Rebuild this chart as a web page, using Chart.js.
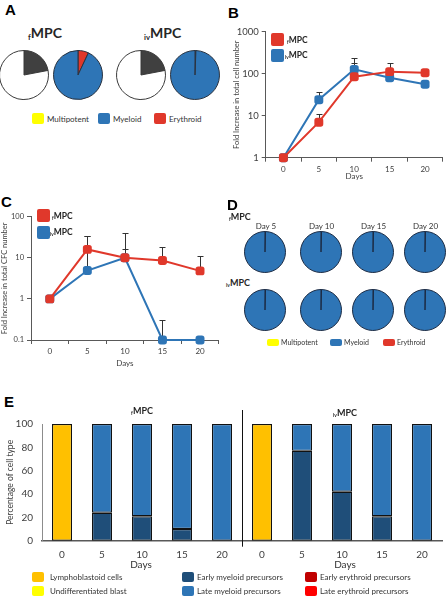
<!DOCTYPE html>
<html>
<head>
<meta charset="utf-8">
<script src="https://cdn.jsdelivr.net/npm/chart.js@4/dist/chart.umd.min.js"></script>
<style>
  html, body { margin: 0; padding: 0; background: #fff; }
  #fig { position: relative; width: 448px; height: 596px; overflow: hidden; font-family: Lato, "Open Sans", sans-serif; color: #333; }
  #fig canvas { position: absolute; }
  .t { position: absolute; white-space: nowrap; line-height: 1; }
  .panel { font-family: "Liberation Sans", Arial, sans-serif; font-weight: bold; font-size: 15px; color: #000; }
  .mpc { font-weight: bold; color: #262626; }
  .mpc sub { font-size: 55%; vertical-align: -0.25em; }
  .sw { position: absolute; border-radius: 2px; }
</style>
</head>
<body>
<div id="fig"></div>
<script>
// ── Data ─────────────────────────────────────────────────────────────────
// A: primary colonies (dark = share of colony-forming cells) and lineage split
const fmpcColonyA   = [22, 78];
const fmpcLineageA  = [7, 93];       // erythroid, myeloid
const ivmpcColonyA  = [22, 78];
const ivmpcLineageA = [0.6, 99.4];   // other, myeloid

// B: fold increase in total cell number (log)
const daysBC    = ['0', '5', '10', '15', '20'];
const yTicksB   = [1, 10, 100, 1000];
const fmpcB     = [1, 7, 85, 112, 105];
const fmpcErrB  = [null, 11, 175, 175, 128];
const ivmpcB    = [1, 24, 127, 80, 56];
const ivmpcErrB = [null, 37, 240, null, null];

// C: fold increase in total CFC number (log)
const yTicksC   = [0.1, 1, 10, 100];
const fmpcC     = [1, 16, 10, 8.6, 4.8];
const fmpcErrC  = [null, 33, 40, 18, 11];
const ivmpcC    = [1, 4.9, 10, 0.1, 0.1];
const ivmpcErrC = [null, 33, 16, 0.31, null];

// D: lineage of secondary colonies per day
const dayLabelsD   = ['Day 5', 'Day 10', 'Day 15', 'Day 20'];
const fmpcOtherD   = [0.4, 0.4, 0.4, 0.4];
const fmpcMyeloidD = [99.6, 99.6, 99.6, 99.6];
const ivmpcOtherD   = [0.4, 0.4, 0.4, 0.4];
const ivmpcMyeloidD = [99.6, 99.6, 99.6, 99.6];

// E: percentage of cell type (fMPC days, then ivMPC days)
const daysE           = ['0', '5', '10', '15', '20', '0', '5', '10', '15', '20'];
const lymphoE         = [100, 0, 0, 0, 0, 100, 0, 0, 0, 0];
const blastE          = [0, 0, 0, 0, 0, 0, 0, 0, 0, 0];
const earlyMyeloidE   = [0, 24, 21, 10, 0, 0, 77, 42, 21, 0];
const lateMyeloidE    = [0, 76, 79, 90, 100, 0, 23, 58, 79, 100];
const earlyErythroidE = [0, 0, 0, 0, 0, 0, 0, 0, 0, 0];
const lateErythroidE  = [0, 0, 0, 0, 0, 0, 0, 0, 0, 0];

// ── Colours ──────────────────────────────────────────────────────────────
const RED = '#e0382b', BLUE = '#2e75b6', NAVY = '#1f4e79', YELLOW = '#ffff00',
      ORANGE = '#ffc000', DKRED = '#c00000', BRRED = '#ff0000', AXIS = '#595959';

Chart.defaults.font.family = 'Lato, "Open Sans", sans-serif';
Chart.defaults.color = '#404040';

const fig = document.getElementById('fig');

// ── Helpers ──────────────────────────────────────────────────────────────
function addCanvas(x, y, w, h) {
    const c = document.createElement('canvas');
    c.width = w; c.height = h;
    c.style.left = x + 'px'; c.style.top = y + 'px';
    c.style.width = w + 'px'; c.style.height = h + 'px';
    fig.appendChild(c);
    return c;
}

function label(x, y, html, cls, size, anchor) {
    const d = document.createElement('div');
    d.className = 't ' + (cls || '');
    d.innerHTML = html;
    d.style.left = x + 'px'; d.style.top = y + 'px';
    if (size) d.style.fontSize = size + 'px';
    d.style.transform = anchor === 'center' ? 'translate(-50%,-50%)' : 'translateY(-50%)';
    fig.appendChild(d);
}

function swatch(x, y, w, h, color) {
    const d = document.createElement('div');
    d.className = 'sw';
    Object.assign(d.style, { left: x + 'px', top: y + 'px', width: w + 'px', height: h + 'px', background: color });
    fig.appendChild(d);
}

const mpc = (sub) => `<sub>${sub}</sub>MPC`;

const baseOpts = {
    responsive: false, animation: false, devicePixelRatio: 1, events: [],
    plugins: { legend: { display: false }, tooltip: { enabled: false } }
};

function pie(cx, cy, r, data, colors, border) {
    const c = addCanvas(cx - r - 2, cy - r - 2, 2 * r + 4, 2 * r + 4);
    new Chart(c, {
        type: 'pie',
        data: { labels: data.map((_, i) => 's' + i), datasets: [{ data, backgroundColor: colors, borderColor: border, borderWidth: 1 }] },
        options: { ...baseOpts, layout: { padding: 1 } }
    });
}

// upper whiskers drawn through the chart's own scales
const errorBars = {
    id: 'errorBars',
    beforeDatasetsDraw(chart) {
        const { ctx, scales: { x, y } } = chart;
        ctx.save();
        ctx.strokeStyle = '#333';
        ctx.lineWidth = 1;
        chart.data.datasets.forEach(ds => {
            (ds.errUpper || []).forEach((hi, j) => {
                if (hi == null) return;
                const px = Math.round(x.getPixelForValue(j)) + 0.5;
                const y0 = y.getPixelForValue(ds.data[j]);
                const y1 = Math.round(y.getPixelForValue(hi)) + 0.5;
                ctx.beginPath();
                ctx.moveTo(px, y0); ctx.lineTo(px, y1);
                ctx.moveTo(px - 3, y1); ctx.lineTo(px + 3, y1);
                ctx.stroke();
            });
        });
        ctx.restore();
    }
};

function logChart(canvas, cfg) {
    return new Chart(canvas, {
        type: 'line',
        data: {
            labels: daysBC,
            datasets: cfg.series.map(s => ({
                label: s.label, data: s.data, errUpper: s.err,
                borderColor: s.color, backgroundColor: s.color,
                borderWidth: 2, pointStyle: 'rectRounded', pointRadius: 5.2,
                pointBorderWidth: 0, tension: 0, clip: false
            }))
        },
        options: {
            ...baseOpts,
            layout: { padding: cfg.padding },
            scales: {
                x: {
                    offset: true,
                    grid: { offset: true, drawOnChartArea: false, tickLength: 4, color: AXIS },
                    border: { color: AXIS },
                    ticks: { font: { size: 8 }, padding: 3, maxRotation: 0 },
                    title: { display: true, text: 'Days', font: { size: 8 }, padding: { top: 0, bottom: cfg.daysPad } },
                    afterFit: s => { s.height = cfg.xHeight; }
                },
                y: {
                    type: 'logarithmic',
                    min: cfg.ticks[0], max: cfg.ticks[cfg.ticks.length - 1],
                    afterBuildTicks: s => { s.ticks = cfg.ticks.map(v => ({ value: v })); },
                    grid: { drawOnChartArea: false, tickLength: 4, color: AXIS },
                    border: { color: AXIS },
                    ticks: { font: { size: cfg.yFont }, padding: 3, callback: v => String(v) },
                    title: { display: true, text: cfg.yTitle, font: { size: 7.5 }, padding: { top: cfg.yTitlePad, bottom: 0 } },
                    afterFit: s => { s.width = cfg.yWidth; }
                }
            }
        },
        plugins: [errorBars]
    });
}

// ── Panel A ──────────────────────────────────────────────────────────────
label(5, 9, 'A', 'panel');
label(28, 34, mpc('f'), 'mpc', 14);
label(144, 34, mpc('iv'), 'mpc', 14);
pie(24, 75, 24, fmpcColonyA, ['#404040', '#ffffff'], '#3a3a3a');
pie(78, 75, 24, fmpcLineageA, [RED, BLUE], '#2a3340');
pie(141, 75, 24, ivmpcColonyA, ['#404040', '#ffffff'], '#3a3a3a');
pie(195, 75, 24, ivmpcLineageA, ['#111111', BLUE], '#2a3340');
[['Multipotent', YELLOW, 32], ['Myeloid', BLUE, 98], ['Erythroid', RED, 154]].forEach(([t, c, x]) => {
    swatch(x, 113, 12, 11, c);
    label(x + 15, 119, t, '', 8);
});

// ── Panel B ──────────────────────────────────────────────────────────────
label(228, 12, 'B', 'panel');
logChart(addCanvas(224, 0, 224, 185), {
    padding: { top: 31.7, right: 2, left: 0, bottom: 0 },
    yWidth: 41.7, xHeight: 27.3, daysPad: 3.5, yFont: 9.5, yTitlePad: 8.5,
    ticks: yTicksB,
    yTitle: 'Fold Increase in total cell number',
    series: [
        { label: 'fMPC', data: fmpcB, err: fmpcErrB, color: RED },
        { label: 'ivMPC', data: ivmpcB, err: ivmpcErrB, color: BLUE }
    ]
});
swatch(271, 33, 13, 12.5, RED);
label(287, 39.5, mpc('f'), 'mpc', 8.5);
swatch(271, 48.5, 13, 13, BLUE);
label(285, 55, mpc('iv'), 'mpc', 8.5);

// ── Panel C ──────────────────────────────────────────────────────────────
label(1, 201, 'C', 'panel');
logChart(addCanvas(0, 190, 224, 180), {
    padding: { top: 26.7, right: 3, left: 0, bottom: 0 },
    yWidth: 31, xHeight: 30, daysPad: 2.2, yFont: 7.5, yTitlePad: 0,
    ticks: yTicksC,
    yTitle: 'Fold Increase in total CFC number',
    series: [
        { label: 'fMPC', data: fmpcC, err: fmpcErrC, color: RED },
        { label: 'ivMPC', data: ivmpcC, err: ivmpcErrC, color: BLUE }
    ]
});
swatch(37, 209, 13, 12.5, RED);
label(52, 215.5, mpc('f'), 'mpc', 8.5);
swatch(37, 226, 13, 12.5, BLUE);
label(50, 232, mpc('iv'), 'mpc', 8.5);

// ── Panel D ──────────────────────────────────────────────────────────────
label(227, 203.5, 'D', 'panel');
label(229, 217, mpc('f'), 'mpc', 9);
label(226, 283, mpc('iv'), 'mpc', 9);
const pieXD = [265, 320.5, 372.5, 424.5];
dayLabelsD.forEach((t, i) => label(pieXD[i] + 1, 226, t, '', 8, 'center'));
pieXD.forEach((x, i) => {
    pie(x, 252, 20, [fmpcOtherD[i], fmpcMyeloidD[i]], ['#1b2b44', BLUE], '#1b2b44');
    pie(x, 310, 20, [ivmpcOtherD[i], ivmpcMyeloidD[i]], ['#1b2b44', BLUE], '#1b2b44');
});
[['Multipotent', YELLOW, 267], ['Myeloid', BLUE, 330], ['Erythroid', RED, 383]].forEach(([t, c, x]) => {
    swatch(x, 338.5, 12, 7.5, c);
    label(x + 14, 342, t, '', 7);
});

// ── Panel E ──────────────────────────────────────────────────────────────
label(4, 401, 'E', 'panel');
const divider = {
    id: 'divider',
    afterDraw(chart) {
        const { ctx, chartArea, scales: { x } } = chart;
        const px = Math.round((x.getPixelForValue(4) + x.getPixelForValue(5)) / 2) + 0.5;
        ctx.save();
        ctx.strokeStyle = '#111';
        ctx.lineWidth = 1;
        ctx.beginPath();
        ctx.moveTo(px, chartArea.top - 14);
        ctx.lineTo(px, chartArea.bottom + 6);
        ctx.stroke();
        ctx.restore();
    }
};
new Chart(addCanvas(0, 405, 448, 166), {
    type: 'bar',
    data: {
        labels: daysE,
        datasets: [
            { label: 'Lymphoblastoid cells', data: lymphoE, backgroundColor: ORANGE },
            { label: 'Undifferentiated blast', data: blastE, backgroundColor: YELLOW },
            { label: 'Early myeloid precursors', data: earlyMyeloidE, backgroundColor: NAVY },
            { label: 'Late myeloid precursors', data: lateMyeloidE, backgroundColor: BLUE },
            { label: 'Early erythroid precursors', data: earlyErythroidE, backgroundColor: DKRED },
            { label: 'Late erythroid precursors', data: lateErythroidE, backgroundColor: BRRED }
        ]
    },
    options: {
        ...baseOpts,
        layout: { padding: { top: 19, right: 6, left: 0, bottom: 0 } },
        datasets: { bar: { categoryPercentage: 1, barPercentage: 0.5, borderColor: '#111', borderWidth: 1.2, borderSkipped: false } },
        scales: {
            x: {
                stacked: true,
                grid: { display: false, drawTicks: false },
                border: { color: AXIS, width: 1.5 },
                ticks: { font: { size: 10 }, padding: 8, maxRotation: 0 },
                afterFit: s => { s.height = 30.3; }
            },
            y: {
                stacked: true, min: 0, max: 100,
                grid: { display: false, drawTicks: false },
                border: { color: '#8c8c8c' },
                ticks: { stepSize: 20, font: { size: 10 }, padding: 9 },
                title: { display: true, text: 'Percentage of cell type', font: { size: 8.5 }, padding: { top: 5, bottom: 0 } },
                afterFit: s => { s.width = 42; }
            }
        }
    },
    plugins: [divider]
});
label(142, 411, mpc('f'), 'mpc', 9, 'center');
label(345, 413, mpc('iv'), 'mpc', 9, 'center');
label(141, 564, 'Days', '', 10, 'center');
label(345, 564, 'Days', '', 10, 'center');

const legendE = [
    ['Lymphoblastoid cells', ORANGE, 32, 577],
    ['Undifferentiated blast', YELLOW, 32, 591],
    ['Early myeloid precursors', NAVY, 182, 577],
    ['Late myeloid precursors', BLUE, 182, 591],
    ['Early erythroid precursors', DKRED, 305, 577],
    ['Late erythroid precursors', BRRED, 305, 591]
];
legendE.forEach(([t, c, x, y]) => {
    swatch(x, y - 5, 11.5, 10, c);
    label(x + (x === 32 ? 18 : 15), y, t, '', 8);
});
</script>
</body>
</html>
